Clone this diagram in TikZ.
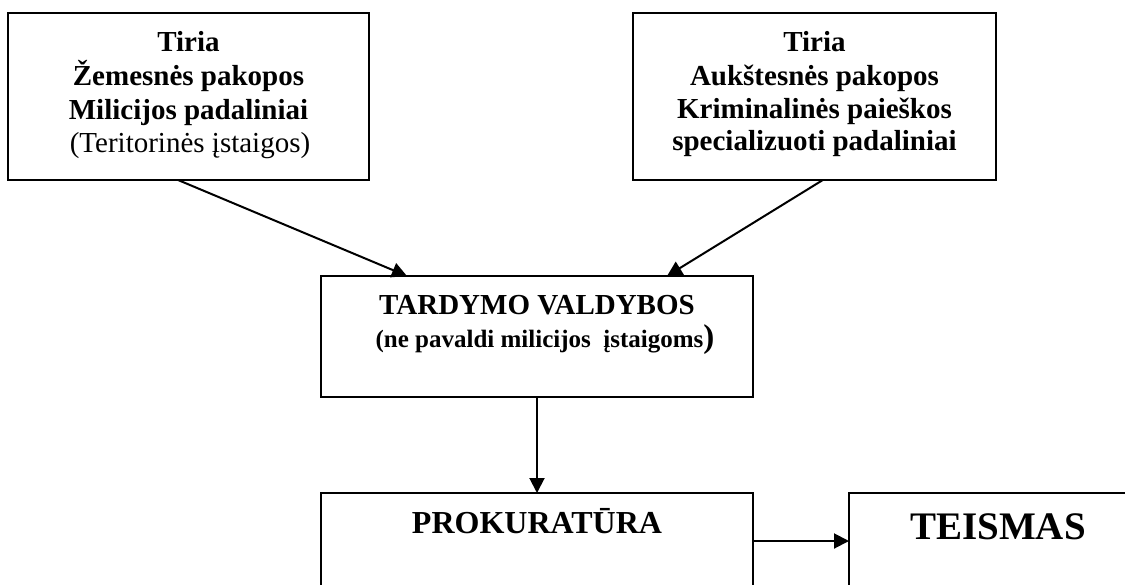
\documentclass[tikz,border=0pt]{standalone}
\usepackage{fontspec}
\setmainfont{Liberation Serif}
\usetikzlibrary{arrows.meta,calc}
\begin{document}
\begin{tikzpicture}[x=1pt,y=-1pt,
  box/.style={draw,line width=2.6pt,inner sep=0pt,outer sep=0pt,rectangle},
  txt/.style={anchor=base,inner sep=0pt,outer sep=0pt},
  conn/.style={line width=2pt,-{Triangle[length=15pt,width=15pt]}},
  fbig/.style={font=\fontsize{29}{34}\selectfont\bfseries},
]
\useasboundingbox (0,0) rectangle (1125,584);
\clip (0,0) rectangle (1125,584);
% boxes
\node[box,minimum width=361pt,minimum height=167pt] (b1) at (188.5,96.5) {};
\node[box,minimum width=363pt,minimum height=167pt] (b2) at (814.5,96.5) {};
\node[box,minimum width=432pt,minimum height=121pt] (b3) at (537,336.5) {};
\node[box,minimum width=432pt,minimum height=96pt] (b4) at (537,541) {};
\node[box,minimum width=298pt,minimum height=96pt] (b5) at (998,541) {};
% texts box 1
\node[txt,fbig] (t1a) at (188.5,51) {Tiria};
\node[txt,fbig] (t1b) at (188.5,85) {Žemesnės pakopos};
\node[txt,fbig] (t1c) at (188.5,119) {Milicijos padaliniai};
\node[txt,font=\fontsize{29}{34}\selectfont] (t1d) at (190,152) {(Teritorinės įstaigos)};
% texts box 2
\node[txt,fbig] (t2a) at (814.5,51) {Tiria};
\node[txt,fbig] (t2b) at (814.5,85) {Aukštesnės pakopos};
\node[txt,fbig] (t2c) at (814.5,118) {Kriminalinės paieškos};
\node[txt,fbig] (t2d) at (814.5,150) {specializuoti padaliniai};
% texts box 3
\node[txt,fbig] (t3a) at (537,314) {TARDYMO VALDYBOS};
\node[txt,font=\fontsize{25}{30}\selectfont\bfseries] (t3b) at (545,347) {(ne pavaldi milicijos~ įstaigoms{\fontsize{33}{38}\selectfont)}};
% texts box 4, 5
\node[txt,font=\fontsize{32}{38}\selectfont\bfseries] (t4) at (537,533) {PROKURATŪRA};
\node[txt,font=\fontsize{39}{46}\selectfont\bfseries] (t5) at (998,539) {TEISMAS};
% connectors
\draw[conn] ($(b1.south west)!0.471!(b1.south east)$) -- ($(b3.north west)!0.199!(b3.north east)$);
\draw[conn] ($(b2.south west)!0.523!(b2.south east)$) -- ($(b3.north west)!0.801!(b3.north east)$);
\draw[conn] (b3.south) -- (b4.north);
\draw[conn] (b4.east) -- (b5.west);
\end{tikzpicture}
\end{document}
